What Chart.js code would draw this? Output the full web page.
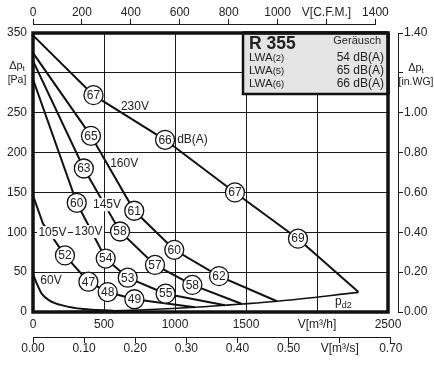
<!DOCTYPE html>
<html><head><meta charset="utf-8">
<script src="https://cdn.jsdelivr.net/npm/chart.js@4.4.1/dist/chart.umd.min.js"></script>
<style>html,body{margin:0;padding:0;background:#fff;}#wrap{width:434px;height:366px;position:relative;}</style>
</head><body><div id="wrap"><canvas id="c" width="434" height="366"></canvas></div>
<script>
// ---------- data ----------
// fan curves: [flow m3/h, total pressure Pa]
const curve230 = [[0,347],[426,272],[930,216],[1422,150],[1866,92],[2292,25]];
const curve160 = [[0,325],[408,221],[713,127],[995,78],[1310,45],[1718,13.5]];
const curve145 = [[0,315],[358,180],[613,101],[859,59],[1122,34],[1472,10]];
const curve130 = [[0,292],[308,137],[512,67],[667,43],[934,23],[1352,8.5]];
const curve105 = [[0,146],[70,111],[225,71],[390,38],[526,25],[714,16],[1140,6]];
const curve60  = [[0,48],[26,36],[61,23],[120,14],[214,8],[354,3.7],[566,1.5]];
const curvePd2 = [[0,0],[566,1.5],[1140,6],[1352,8.5],[1472,10],[1718,13.5],[2292,24.6]];

// noise marks (dB(A))
const noiseFlow  = [426,930,1422,1866, 408,713,995,1310, 358,613,859,1122, 308,512,667,934, 225,390,526,714];
const noisePress = [272,216,150,92,    221,127,78,45,    180,101,59,34,    137,67,43,23,    71,38,25,16];
const noiseDb    = [67,66,67,69,       65,61,60,62,      63,58,57,58,      60,54,53,55,     52,47,48,49];

// curve labels
const curveLabels = ['230V','160V','145V','130V','105V','60V'];

// legend box
const legendTitle = 'R 355';
const legendHead = 'Geräusch';
const legendRows = ['(2)','(5)','(6)'];
const legendDb = [54,65,66];

// axes ticks and labels
const m3hTicks = [0,500,1000,1500,2000,2500];
const m3hLabels = ['0','500','1000','1500','V[m³/h]','2500'];
const m3sTicks = [0,0.1,0.2,0.3,0.4,0.5,0.6,0.7];
const m3sLabels = ['0.00','0.10','0.20','0.30','0.40','0.50','V[m³/s]','0.70'];
const cfmTicks = [0,200,400,600,800,1000,1200,1400];
const cfmLabels = ['0','200','400','600','800','1000','V[C.F.M.]','1400'];
const paTicks = [0,50,100,150,200,250,300,350];
const paLabels = ['0','50','100','150','200','250','','350'];
const inwgTicks = [0,0.2,0.4,0.6,0.8,1.0,1.2,1.4];
const inwgLabels = ['0.00','0.20','0.40','0.60','0.80','1.00','','1.40'];
const cfmToM3h = 1.7225;

// ---------- styling / annotation placement ----------
const FONT = "'Liberation Sans', Arial, Helvetica, sans-serif";
const TXT = '#222';
const annot = [
  {t:'230V', x:718, y:257.5, bg:false},
  {t:'160V', x:642, y:186, bg:false},
  {t:'145V', x:521, y:134.6, bg:true},
  {t:'130V', x:391, y:101, bg:true},
  {t:'105V', x:137, y:99.6, bg:true},
  {t:'60V',  x:127, y:39, bg:false},
  {t:'dB(A)', x:1123, y:216, bg:false}
];

const toXY = pts => pts.map(p => ({x:p[0], y:p[1]}));
const lineDs = (pts, extra) => Object.assign({
  data: toXY(pts), showLine:true, borderColor:'#111', borderWidth:2,
  pointRadius:0, fill:false, tension:0, order:1
}, extra || {});
const setTicks = arr => (s => { s.ticks = arr.map(v => ({value:v})); });
const tickFont = {family:FONT, size:12};

const decor = {
  id:'decor',
  afterLayout(chart){
    const {x, x2, x3} = chart.scales;
    x2.right = x.getPixelForValue(x2.max * cfmToM3h); x2.width = x2.right - x2.left; x2.configure();
    x3.right = x.getPixelForValue(x3.max * 3600); x3.width = x3.right - x3.left; x3.configure();
  },
  afterDatasetsDraw(chart){
    const {ctx, chartArea:a, scales} = chart;
    const {x, y, y2} = scales;
    ctx.save();
    // numbers in circles
    const meta = chart.getDatasetMeta(0);
    ctx.font = `12px ${FONT}`; ctx.fillStyle = TXT; ctx.textAlign='center'; ctx.textBaseline='middle';
    meta.data.forEach((pt,i) => ctx.fillText(String(noiseDb[i]), pt.x, pt.y + 0.5));
    // curve labels
    annot.forEach(l => {
      const px = x.getPixelForValue(l.x), py = y.getPixelForValue(l.y);
      ctx.font = `12px ${FONT}`;
      const w = ctx.measureText(l.t).width;
      if (l.bg) { ctx.fillStyle='#fff'; ctx.fillRect(px - w/2 - 1.5, py - 6.5, w + 3, 13); }
      ctx.fillStyle = TXT; ctx.fillText(l.t, px, py);
    });
    // p_d2
    {
      const px = x.getPixelForValue(2183), py = y.getPixelForValue(12);
      ctx.textAlign='left'; ctx.font = `12px ${FONT}`;
      const w = ctx.measureText('p').width;
      ctx.fillText('p', px - 8, py - 1);
      ctx.font = `9px ${FONT}`;
      ctx.fillText('d2', px - 8 + w, py + 3);
    }
    // frame
    ctx.strokeStyle = '#111'; ctx.lineWidth = 3.5;
    ctx.strokeRect(a.left, a.top, a.right - a.left, a.bottom - a.top);
    // legend box
    const bl = a.right - 145, bt = a.top, bw = 145, bh = 61;
    ctx.fillStyle = '#e4e4e4'; ctx.fillRect(bl, bt, bw, bh);
    ctx.lineWidth = 2.5; ctx.strokeRect(bl, bt, bw, bh);
    ctx.lineWidth = 3.5; ctx.beginPath(); ctx.moveTo(a.right, a.top); ctx.lineTo(a.right, bt + bh); ctx.moveTo(bl, a.top); ctx.lineTo(a.right, a.top); ctx.stroke();
    ctx.fillStyle = TXT; ctx.textBaseline='alphabetic'; ctx.textAlign='left';
    ctx.font = `bold 17.5px ${FONT}`; ctx.fillText(legendTitle, bl + 6, bt + 16);
    ctx.textBaseline='middle';
    ctx.textAlign='right'; ctx.font = `11px ${FONT}`; ctx.fillText(legendHead, bl + 138, bt + 8);
    legendRows.forEach((r,i) => {
      const ry = bt + 24.5 + i * 13.2;
      ctx.textAlign='left'; ctx.font = `11.5px ${FONT}`;
      ctx.fillText('LWA', bl + 6, ry);
      const w = ctx.measureText('LWA').width;
      ctx.font = `9.5px ${FONT}`; ctx.fillText(r, bl + 6 + w, ry + 0.5);
      ctx.textAlign='right'; ctx.font = `12px ${FONT}`;
      ctx.fillText(legendDb[i] + ' dB(A)', bl + 141, ry);
    });
    // axis titles
    const drawDp = (cx, cy, unit, unitSize) => {
      ctx.textAlign='left'; ctx.textBaseline='middle'; ctx.fillStyle = TXT;
      ctx.font = `11px ${FONT}`;
      const w1 = ctx.measureText('Δp').width;
      ctx.font = `8px ${FONT}`;
      const w2 = ctx.measureText('t').width;
      const sx = cx - (w1 + w2)/2;
      ctx.font = `11px ${FONT}`; ctx.fillText('Δp', sx, cy);
      ctx.font = `8px ${FONT}`; ctx.fillText('t', sx + w1, cy + 3);
      ctx.font = `${unitSize}px ${FONT}`; ctx.textAlign='center';
      ctx.fillText(unit, cx, cy + 14);
    };
    const yl = y.getPixelForValue(300);
    drawDp(17, yl - 7, '[Pa]', 10.5);
    const yr = y2.getPixelForValue(1.2);
    ctx.fillStyle = '#fff'; ctx.fillRect(y2.left + 6, yr - 1, 30, 2);
    drawDp(416, yr - 5, '[in.WG]', 10.5);
    ctx.restore();
  }
};

new Chart(document.getElementById('c'), {
  type:'scatter',
  data:{ datasets:[
    { data: noiseFlow.map((v,i) => ({x:v, y:noisePress[i]})), pointRadius:9.5, pointHoverRadius:9.5,
      pointBackgroundColor:'#fff', pointBorderColor:'#111', pointBorderWidth:1.3, order:0 },
    lineDs(curve230), lineDs(curve160), lineDs(curve145), lineDs(curve130), lineDs(curve105),
    lineDs(curve60, {cubicInterpolationMode:'monotone', tension:0.4}),
    lineDs(curvePd2, {cubicInterpolationMode:'monotone', tension:0.4, borderWidth:1.6})
  ]},
  options:{
    responsive:false, animation:false, devicePixelRatio:1, events:[],
    layout:{padding:0},
    plugins:{legend:{display:false}, tooltip:{enabled:false}},
    scales:{
      x:{type:'linear', position:'bottom', weight:0, min:0, max:2500,
         afterBuildTicks:setTicks(m3hTicks), afterFit:s=>{s.height=25;},
         grid:{color:'#1a1a1a', lineWidth:1, drawTicks:false}, border:{display:false},
         ticks:{callback:(v,i)=>m3hLabels[i], padding:5, color:TXT, font:tickFont, maxRotation:0, autoSkip:false}},
      x3:{type:'linear', position:'bottom', weight:1, min:0, max:0.7,
         afterBuildTicks:setTicks(m3sTicks), afterFit:s=>{s.height=29;},
         grid:{drawOnChartArea:false, tickLength:6, color:'#1a1a1a', lineWidth:1}, border:{display:true, color:'#1a1a1a', width:1},
         ticks:{callback:(v,i)=>m3sLabels[i], padding:0, color:TXT, font:{family:FONT, size:12, lineHeight:1}, maxRotation:0, autoSkip:false}},
      xPad:{type:'linear', position:'top', weight:0, min:0, max:1,
         afterFit:s=>{s.height=9;}, grid:{display:false}, border:{display:false}, ticks:{display:false}},
      x2:{type:'linear', position:'top', weight:1, min:0, max:1400,
         afterBuildTicks:setTicks(cfmTicks), afterFit:s=>{s.height=24;},
         grid:{drawOnChartArea:false, tickLength:5, color:'#1a1a1a', lineWidth:1}, border:{display:true, color:'#1a1a1a', width:1},
         ticks:{callback:(v,i)=>cfmLabels[i], padding:0, color:TXT, font:{family:FONT, size:12, lineHeight:1}, maxRotation:0, autoSkip:false}},
      y:{type:'linear', position:'left', min:0, max:350,
         afterBuildTicks:setTicks(paTicks), afterFit:s=>{s.width=33;},
         grid:{color:'#1a1a1a', lineWidth:1, drawTicks:false}, border:{display:false},
         ticks:{callback:(v,i)=>paLabels[i], padding:6, color:TXT, font:tickFont, autoSkip:false}},
      yPad:{type:'linear', position:'right', weight:0, min:0, max:1,
         afterFit:s=>{s.width=10;}, grid:{display:false}, border:{display:false}, ticks:{display:false}},
      y2:{type:'linear', position:'right', weight:1, min:0, max:1.4,
         afterBuildTicks:setTicks(inwgTicks), afterFit:s=>{s.width=36;},
         grid:{drawOnChartArea:false, tickLength:5, color:'#1a1a1a', lineWidth:1}, border:{display:true, color:'#1a1a1a', width:1},
         ticks:{callback:(v,i)=>inwgLabels[i], padding:1, color:TXT, font:tickFont, autoSkip:false}}
    }
  },
  plugins:[decor]
});
</script></body></html>
